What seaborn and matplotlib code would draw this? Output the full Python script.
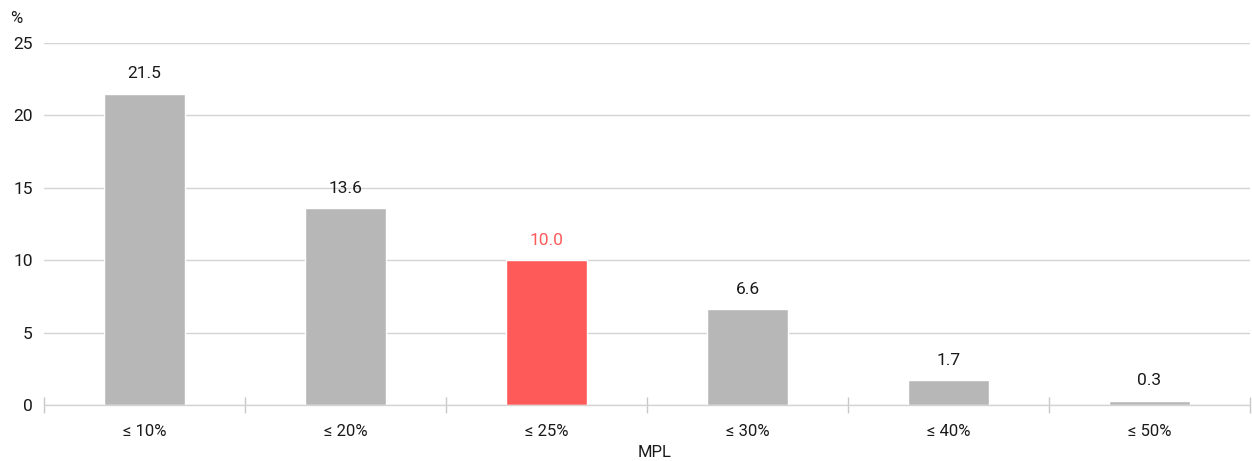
import matplotlib
matplotlib.use("Agg")
import matplotlib.pyplot as plt
import seaborn as sns
import pandas as pd
from matplotlib.ticker import FixedLocator

categories = ["≤ 10%", "≤ 20%", "≤ 25%", "≤ 30%", "≤ 40%", "≤ 50%"]
values = [21.5, 13.6, 10.0, 6.6, 1.7, 0.3]
highlight = "≤ 25%"
y_ticks = [0, 5, 10, 15, 20, 25]

grey = "#b7b7b8"
red = "#ff5a5a"
palette = {c: (red if c == highlight else grey) for c in categories}

df = pd.DataFrame({"cat": categories, "val": values})

sns.set_theme(style="white")
plt.rcParams["font.family"] = ["Roboto", "DejaVu Sans"]

fig = plt.figure(figsize=(12.52, 4.61), dpi=100)
ax = fig.add_axes([0.0351, 0.1215, 0.9633, 0.7852])

sns.barplot(data=df, x="cat", y="val", hue="cat", palette=palette,
            width=0.4, legend=False, ax=ax, saturation=1)

ax.set_xlim(-0.5, len(categories) - 0.5)
ax.set_ylim(0, 25)
ax.set_yticks(y_ticks)
ax.yaxis.grid(True, color="#d4d4d4", linewidth=1)
ax.set_axisbelow(True)
for s in ["top", "right", "left"]:
    ax.spines[s].set_visible(False)
ax.spines["bottom"].set_color("#d4d4d4")
ax.spines["bottom"].set_linewidth(1)

ax.tick_params(axis="y", length=0, labelsize=12.5, pad=8, labelcolor="#1a1a1a")
ax.tick_params(axis="x", which="major", bottom=False, length=0, labelsize=12, pad=14, labelcolor="#1a1a1a")
ax.xaxis.set_minor_locator(FixedLocator([i - 0.5 for i in range(len(categories) + 1)]))
ax.tick_params(axis="x", which="minor", bottom=True, direction="inout", length=12, width=1, color="#c8c8c8")

for i, (c, v) in enumerate(zip(categories, values)):
    ax.annotate(f"{v:.1f}", (i, v), xytext=(0, 9), textcoords="offset points",
                ha="center", va="bottom", fontsize=12.5,
                color=red if c == highlight else "#1a1a1a")

ax.set_xlabel("")
ax.set_ylabel("")
fig.text(0.5225, 1 - 452 / 461, "MPL", fontsize=12, color="#1a1a1a", ha="center", va="center")
fig.text(0.008, 0.96, "%", fontsize=12, color="#1a1a1a", va="center")

fig.savefig("out.png", dpi=100)
